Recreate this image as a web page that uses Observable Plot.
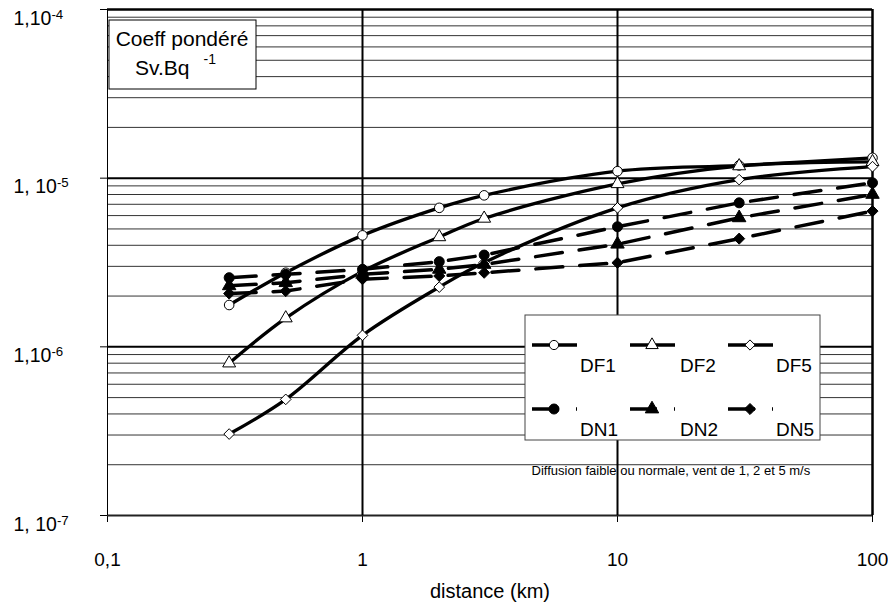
<!DOCTYPE html>
<html>
<head>
<meta charset="utf-8">
<script src="https://cdn.jsdelivr.net/npm/d3@7"></script>
<script src="https://cdn.jsdelivr.net/npm/@observablehq/plot@0.6"></script>
<style>
  html, body { margin: 0; padding: 0; background: #fff; }
  #chart { width: 888px; height: 610px; }
</style>
</head>
<body>
<div id="chart"></div>
<script>
// ---- data ----
const distances = [0.3, 0.5, 1, 2, 3, 10, 30, 100];
const DF1 = [1.77e-6, 2.75e-6, 4.58e-6, 6.67e-6, 7.91e-6, 1.10e-5, 1.19e-5, 1.32e-5];
const DF2 = [8.0e-7, 1.48e-6, 2.8e-6, 4.48e-6, 5.77e-6, 9.25e-6, 1.18e-5, 1.25e-5];
const DF5 = [3.04e-7, 4.88e-7, 1.17e-6, 2.26e-6, 3.16e-6, 6.67e-6, 9.8e-6, 1.17e-5];
const DN1 = [2.57e-6, 2.69e-6, 2.88e-6, 3.2e-6, 3.5e-6, 5.15e-6, 7.14e-6, 9.38e-6];
const DN2 = [2.30e-6, 2.40e-6, 2.69e-6, 2.88e-6, 3.08e-6, 4.06e-6, 5.82e-6, 8.01e-6];
const DN5 = [2.07e-6, 2.14e-6, 2.52e-6, 2.63e-6, 2.75e-6, 3.15e-6, 4.38e-6, 6.38e-6];
const seriesNames = ["DF1", "DF2", "DF5", "DN1", "DN2", "DN5"];
const seriesValues = [DF1, DF2, DF5, DN1, DN2, DN5];
const seriesSymbols = ["circle", "triangle", "diamond2", "circle", "triangle", "diamond2"];

const xTickValues = [0.1, 1, 10, 100];
const xTickLabels = ["0,1", "1", "10", "100"];
const yTickValues = [1e-7, 1e-6, 1e-5, 1e-4];
const yTickLabels = ["1, 10^-7", "1,10^-6", "1, 10^-5", "1,10^-4"];
const xTitle = "distance (km)";
const boxLines = ["Coeff pondéré", "Sv.Bq"];
const boxSup = "-1";
const caption = "Diffusion faible ou normale, vent de 1, 2 et 5 m/s";

// ---- build table ----
const rows = [];
seriesNames.forEach((s, k) => {
  distances.forEach((d, i) => rows.push({ x: d, y: seriesValues[k][i], s, sym: seriesSymbols[k], solid: s.startsWith("DF") }));
});
const dfRows = rows.filter(r => r.solid);
const dnRows = rows.filter(r => !r.solid);

const minorY = [];
for (let e = -7; e < -4; e++) for (let m = 2; m <= 9; m++) minorY.push(m * Math.pow(10, e));

const font = "'Liberation Sans', Arial, sans-serif";

const svg = Plot.plot({
  width: 888,
  height: 610,
  marginLeft: 107,
  marginRight: 16,
  marginTop: 9,
  marginBottom: 95,
  style: { fontFamily: font, background: "#fff", color: "#000", overflow: "visible" },
  x: { type: "log", domain: [0.1, 100], ticks: xTickValues, tickSize: 7, tickFormat: () => "", label: null },
  y: { type: "log", domain: [1e-7, 1e-4], ticks: yTickValues, tickSize: 7, tickFormat: () => "", label: null },
  symbol: { domain: ["circle", "triangle", "diamond2"], range: ["circle", "triangle", "diamond2"] },
  marks: [
    Plot.ruleY(minorY, { stroke: "#333", strokeWidth: 1 }),
    Plot.ruleY([1e-6, 1e-5], { stroke: "#000", strokeWidth: 2 }),
    Plot.ruleY([1e-4], { stroke: "#000", strokeWidth: 2.5 }),
    Plot.ruleY([1e-7], { stroke: "#222", strokeWidth: 2 }),
    Plot.ruleX([1, 10], { stroke: "#000", strokeWidth: 2 }),
    Plot.ruleX([100], { stroke: "#000", strokeWidth: 2.5 }),
    Plot.ruleX([0.1], { stroke: "#000", strokeWidth: 1 }),
    // DF series
    Plot.line(dfRows, { x: "x", y: "y", z: "s", curve: "catmull-rom", stroke: "#000", strokeWidth: 3.3 }),
    Plot.dot(dfRows, { x: "x", y: "y", symbol: "sym", r: 4.8, fill: "#fff", stroke: "#000", strokeWidth: 1 }),
    // DN series
    Plot.line(dnRows, { x: "x", y: "y", z: "s", stroke: "#000", strokeWidth: 3.5, strokeDasharray: "27,17" }),
    Plot.dot(dnRows, { x: "x", y: "y", symbol: "sym", r: 5, fill: "#000", stroke: "#000", strokeWidth: 1 }),
    // tick labels
    Plot.text(xTickValues, { x: d => d, frameAnchor: "bottom", dy: 50, text: (d, i) => xTickLabels[i], fontSize: 19 }),
    Plot.text(yTickValues, { y: d => d, frameAnchor: "left", dx: -94, dy: 9, textAnchor: "start", text: (d, i) => yTickLabels[i], fontSize: 19.5 }),
    Plot.text([xTitle], { frameAnchor: "bottom", dy: 82, text: d => d, fontSize: 20 }),
    Plot.text([caption], { x: 1, y: 1e-7, dx: 169, dy: -45, textAnchor: "start", text: d => d, fontSize: 13 })
  ]
});

// superscripts for y tick labels
d3.select(svg).selectAll("text").each(function () {
  const t = this.textContent;
  if (t.includes("^")) {
    const [b, s] = t.split("^");
    const el = d3.select(this);
    el.text(null);
    el.append("tspan").text(b);
    el.append("tspan").attr("dy", "-0.45em").attr("font-size", "0.68em").text(s);
  }
});

const root = d3.select(svg);

// annotation box
const box = root.append("g").attr("transform", "translate(109,20)").attr("font-family", font).attr("text-anchor", "start");
box.append("rect").attr("width", 147).attr("height", 69).attr("fill", "#fff").attr("stroke", "#000").attr("stroke-width", 1);
box.append("text").attr("x", 73).attr("y", 26).attr("text-anchor", "middle").attr("font-size", 21).text(boxLines[0]);
const t2 = box.append("text").attr("x", 26).attr("y", 55).attr("text-anchor", "start").attr("font-size", 21);
t2.append("tspan").text(boxLines[1]);
t2.append("tspan").attr("dx", 14).attr("dy", -11).attr("font-size", 14).text(boxSup);

// legend
const lg = root.append("g").attr("transform", "translate(525,315)").attr("font-family", font).attr("text-anchor", "start");
lg.append("rect").attr("width", 295).attr("height", 125).attr("fill", "#fff").attr("stroke", "#444").attr("stroke-width", 1);
const symMap = { circle: d3.symbolCircle, triangle: d3.symbolTriangle, diamond2: d3.symbolDiamond2 };
seriesNames.forEach((s, k) => {
  const col = k % 3, row = Math.floor(k / 3);
  const ox = 7 + col * 98, oy = 30 + row * 64;
  const solid = s.startsWith("DF");
  lg.append("line").attr("x1", ox).attr("x2", ox + 45).attr("y1", oy).attr("y2", oy)
    .attr("stroke", "#000").attr("stroke-width", solid ? 3.3 : 3.5)
    .attr("stroke-dasharray", solid ? null : "27,17");
  const r = solid ? 4.6 : 5;
  lg.append("path").attr("transform", `translate(${ox + 22},${oy})`)
    .attr("d", d3.symbol(symMap[seriesSymbols[k]], Math.PI * r * r)())
    .attr("fill", solid ? "#fff" : "#000").attr("stroke", "#000").attr("stroke-width", 1);
  lg.append("text").attr("x", ox + 48 + (col === 1 ? 2 : 0)).attr("y", oy + 27).attr("text-anchor", "start").attr("font-size", 19).text(s);
});

document.getElementById("chart").appendChild(svg);
</script>
</body>
</html>
